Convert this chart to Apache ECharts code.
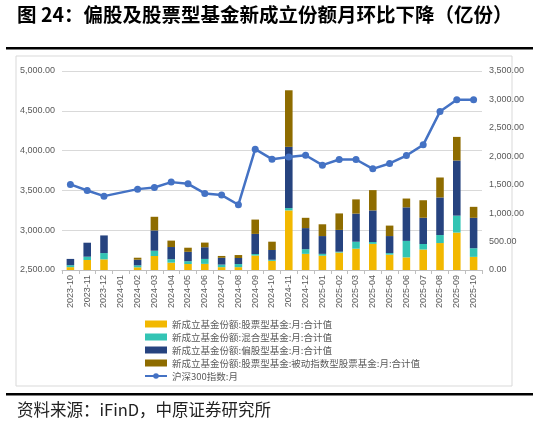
<!DOCTYPE html>
<html><head><meta charset="utf-8">
<script src="https://cdn.jsdelivr.net/npm/echarts@6/dist/echarts.min.js"></script>
<style>html,body{margin:0;padding:0;background:#fff}#c{width:539px;height:427px}</style>
</head><body><div id="c"></div>
<script>
const categories = ['2023-10','2023-11','2023-12','2024-01','2024-02','2024-03','2024-04','2024-05','2024-06','2024-07','2024-08','2024-09','2024-10','2024-11','2024-12','2025-01','2025-02','2025-03','2025-04','2025-05','2025-06','2025-07','2025-08','2025-09','2025-10'];
const stockFund = [50,176,187,'-',47,246,129,105,108,50,50,255,160,1048,284,252,307,375,460,270,222,360,474,658,231];
const mixedFund = [35,58,111,'-',35,93,60,50,87,45,55,26,20,41,82,32,15,122,32,28,290,97,141,298,152];
const partialStockFund = [110,246,310,'-',99,357,215,165,205,120,106,354,172,1077,371,313,383,495,556,299,590,462,661,970,535];
const passiveIndexFund = [0,0,0,'-',35,240,113,72,82,32,52,252,146,995,181,207,290,250,357,184,155,308,351,415,193];
const csi300 = [3575,3499,3428,'-',3516,3537,3604,3583,3462,3441,3320,4018,3892,3921,3942,3817,3888,3888,3771,3838,3938,4072,4490,4640,4640];
const leftTicks = {min:2500, max:5000, interval:500};
const rightTicks = {min:0, max:3500, interval:500};
const names = ['新成立基金份额:股票型基金:月:合计值','新成立基金份额:混合型基金:月:合计值','新成立基金份额:偏股型基金:月:合计值','新成立基金份额:股票型基金:被动指数型股票基金:月:合计值','沪深300指数:月'];
const colors = ['#F2B800','#33C4B4','#26437F','#8E6C00','#4472C4'];

const fmt = v => v.toLocaleString('en-US',{minimumFractionDigits:2,maximumFractionDigits:2});
const cjk = '"Noto Sans CJK SC","Noto Sans",sans-serif';
const num = '"Liberation Sans","Noto Sans",sans-serif';
const chart = echarts.init(document.getElementById('c'));
const barData = [stockFund, mixedFund, partialStockFund, passiveIndexFund];
const series = barData.map((d,i)=>({
  name:names[i], type:'bar', stack:'s', yAxisIndex:1, data:d, barWidth:'45%',
  itemStyle:{color:colors[i]}, z:2
}));
series.push({
  name:names[4], type:'line', yAxisIndex:0, data:csi300, connectNulls:true,
  symbol:'circle', symbolSize:7, lineStyle:{width:2.5,color:colors[4]}, itemStyle:{color:colors[4]}, z:5
});
chart.setOption({
  animation:false,
  color:colors,
  grid:{left:62,right:57,top:71,bottom:157},
  xAxis:{type:'category',data:categories,
    axisLine:{lineStyle:{color:'#BFBFBF'}},
    axisTick:{show:true,length:4,lineStyle:{color:'#BFBFBF'}},
    axisLabel:{rotate:90,fontSize:9,color:'#595959',fontFamily:num,margin:5,interval:0}},
  yAxis:[
    {type:'value',min:leftTicks.min,max:leftTicks.max,interval:leftTicks.interval,
     axisLine:{show:false},axisTick:{show:false},
     splitLine:{lineStyle:{color:'#D9D9D9'}},
     axisLabel:{formatter:fmt,fontSize:9,color:'#595959',fontFamily:num,margin:7}},
    {type:'value',min:rightTicks.min,max:rightTicks.max,interval:rightTicks.interval,
     axisLine:{show:false},axisTick:{show:false},splitLine:{show:false},
     axisLabel:{formatter:fmt,fontSize:9,color:'#595959',fontFamily:num,margin:7}}
  ],
  legend:{orient:'vertical',left:139,top:313,itemWidth:22,itemHeight:7,itemGap:1,
    data:names.map((n,i)=>i<4?{name:n,icon:'rect'}:{name:n}),
    textStyle:{fontSize:9.5,color:'#595959',fontFamily:cjk,lineHeight:12}},
  series:series,
  graphic:[
    {type:'text',left:17,top:5,style:{text:'图 24：偏股及股票型基金新成立份额月环比下降（亿份）',font:'bold 19.5px '+cjk,fill:'#000'}},
    {type:'rect',shape:{x:6,y:47,width:527,height:2.5},style:{fill:'#000'}},
    {type:'rect',shape:{x:16,y:56,width:496,height:330},style:{fill:'none',stroke:'#D9D9D9',lineWidth:1},z:-1},
    {type:'rect',shape:{x:6,y:393,width:527,height:2.5},style:{fill:'#000'}},
    {type:'text',left:17,top:401,style:{text:'资料来源：iFinD，中原证券研究所',font:'16.5px '+cjk,fill:'#222'}}
  ]
});
</script></body></html>
